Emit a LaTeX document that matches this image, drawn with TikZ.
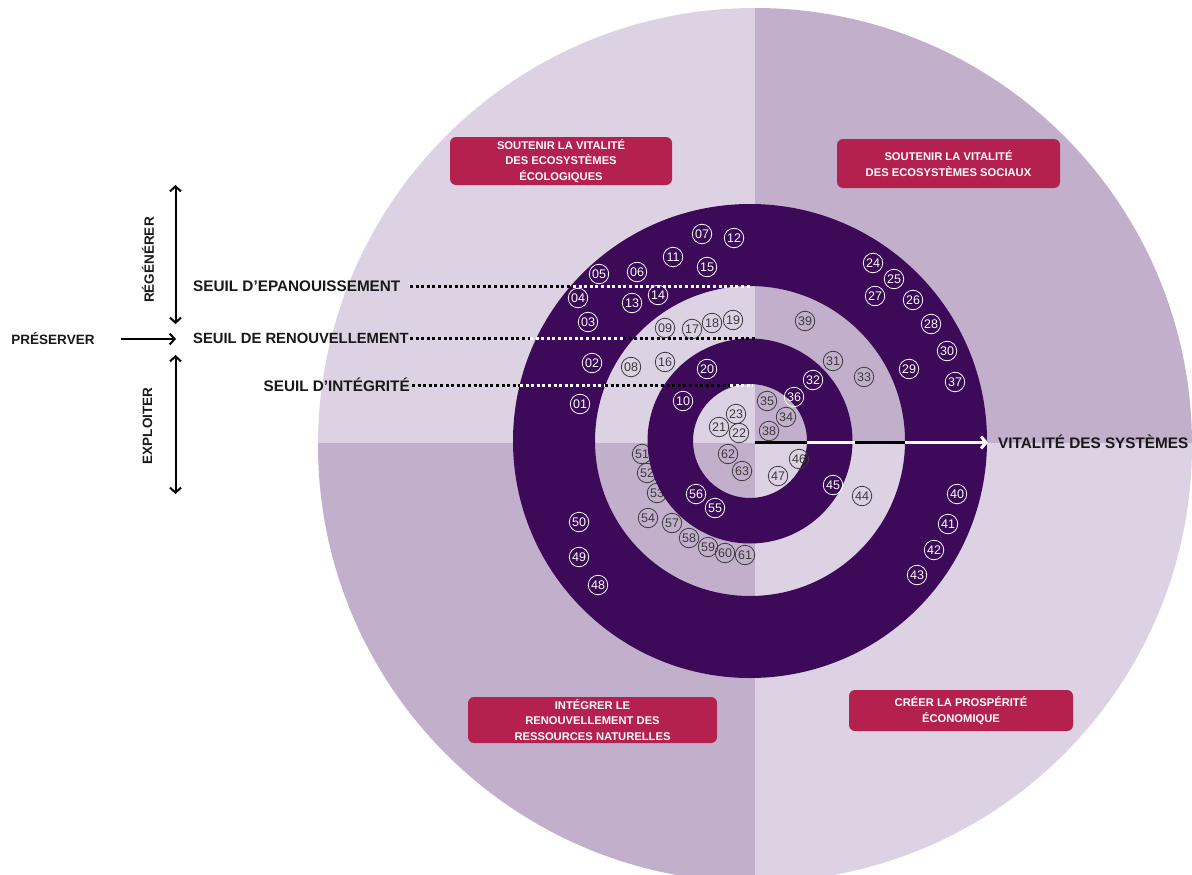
\documentclass[tikz,border=0pt]{standalone}
\usepackage{fontspec}
\setmainfont{Liberation Sans}
\usetikzlibrary{arrows.meta}

\definecolor{lilaclight}{HTML}{DDD2E4}
\definecolor{lilacmid}{HTML}{C1AFCC}
\definecolor{ringpurple}{HTML}{3D0A5A}
\definecolor{boxred}{HTML}{B5214F}
\definecolor{numgray}{HTML}{3A3A3A}

\tikzset{
  seuilline/.style={line width=3pt, dash pattern=on 3pt off 2.6pt},
  vitline/.style={line width=3pt},
  dblarrow/.style={line width=2pt, {Straight Barb[length=5pt,width=11pt]}-{Straight Barb[length=5pt,width=11pt]}},
  onearrow/.style={line width=2pt, -{Straight Barb[length=5pt,width=11pt]}},
  biglab/.style={font=\bfseries\fontsize{15.3}{18}\selectfont, text=black!90, inner sep=0pt},
  sidelab/.style={font=\bfseries\fontsize{13.5}{16}\selectfont, text=black!90, inner sep=0pt},
  redbox/.style={fill=boxred, rounded corners=6pt, text=white, align=center, inner sep=0pt,
    font=\bfseries\fontsize{11.2}{15.3}\selectfont},
  numw/.style={circle, draw=white, text=white, line width=0.8pt, minimum size=19.5pt, inner sep=0pt,
    font=\fontsize{12.5}{12.5}\selectfont},
  numd/.style={numw, draw=numgray, text=numgray}
}

\begin{document}
\begin{tikzpicture}[x=1pt,y=-1pt]
\useasboundingbox (0,0) rectangle (1192,875);
\clip (0,0) rectangle (1192,875);
\fill[white] (0,0) rectangle (1192,875);

% four quadrants of the outer disc
\begin{scope}
  \clip (755,445) circle[radius=437pt];
  \fill[lilaclight] (0,0) rectangle (755,443);
  \fill[lilacmid] (755,0) rectangle (1192,443);
  \fill[lilacmid] (0,443) rectangle (755,875);
  \fill[lilaclight] (755,443) rectangle (1192,875);
\end{scope}

% outer dark ring
\fill[ringpurple, even odd rule] (750,441) circle[radius=237pt] (750,441) circle[radius=155pt];

% markers lying under the inner ring edge
\foreach \n/\x/\y in {51/642/454, 52/647/473, 53/657/493}
  \node[numd] (n\n) at (\x,\y) {\n};

% inner dark ring
\fill[ringpurple, even odd rule] (750,441) circle[radius=102.5pt] (750,441) circle[radius=57pt];

% threshold labels and dotted lines
\node[biglab, anchor=west] (epan) at (193,286) {SEUIL D’EPANOUISSEMENT};
\node[biglab, anchor=west, font=\bfseries\fontsize{14.8}{18}\selectfont] (renou) at (193,338.5) {SEUIL DE RENOUVELLEMENT};
\node[biglab, anchor=east] (integ) at (410,385) {SEUIL D’INTÉGRITÉ};

\coordinate (e0) at (410,286);
\coordinate (e1) at (573,286);
\coordinate (e2) at (752,286);
\draw[seuilline, black] (e0) -- (e1);
\draw[seuilline, white] (e1) -- (e2);

\coordinate (r0) at (410,338);
\coordinate (r1) at (530,338);
\coordinate (r2) at (623,338);
\coordinate (r3) at (756,338);
\draw[seuilline, black] (r0) -- (r1);
\draw[seuilline, white] (r1) -- (r2);
\draw[seuilline, black] (r2) -- (r3);

\coordinate (i0) at (412,385);
\coordinate (i1) at (520,385);
\coordinate (i2) at (605,385);
\coordinate (i3) at (730,385);
\coordinate (i4) at (753,385);
\draw[seuilline, black] (i0) -- (i1);
\draw[seuilline, white] (i1) -- (i2);
\draw[seuilline, black] (i2) -- (i3);
\draw[seuilline, white] (i3) -- (i4);

% system vitality axis
\coordinate (v0) at (755,442.5);
\coordinate (v1) at (807,442.5);
\coordinate (v2) at (855,442.5);
\coordinate (v3) at (905,442.5);
\coordinate (v4) at (988,442.5);
\node[biglab, anchor=west] (vit) at (998,441.5) {VITALITÉ DES SYSTÈMES};
\draw[vitline, black] (v0) -- (v1);
\draw[vitline, white] (v1) -- (v2);
\draw[vitline, black] (v2) -- (v3);
\draw[vitline, white, -{Straight Barb[length=5pt,width=12pt]}] (v3) -- (v4);

% left-hand scale
\node[sidelab] (pres) at (53,338.5) {PRÉSERVER};
\node[sidelab, rotate=90] (regen) at (148,260) {RÉGÉNÉRER};
\node[sidelab, rotate=90] (expl) at (147.5,426) {EXPLOITER};
\coordinate (p0) at (121,339);
\coordinate (p1) at (176,339);
\coordinate (rt) at (175.5,185);
\coordinate (rb) at (175.5,324);
\coordinate (et) at (175.5,355);
\coordinate (eb) at (175.5,494);
\draw[onearrow] (p0) -- (p1);
\draw[dblarrow] (rt) -- (rb);
\draw[dblarrow] (et) -- (eb);

% numbered markers on dark rings
\foreach \n/\x/\y in {01/580/404, 02/592/363, 03/588/322, 04/578/298, 05/599/274, 06/637/272,
    07/702/234, 11/673/257, 12/734/238, 13/632/303, 14/658/295, 15/707/267,
    24/873/263, 25/894/279, 26/913/300, 27/875/296, 28/931/324, 29/909/369, 30/947/351, 37/955/382,
    40/957/494, 41/948/524, 42/934/550, 43/917/575, 48/598/585, 49/579/557, 50/579/522,
    10/683/401, 20/707/369, 32/813/380, 36/794/397, 45/833/485, 56/696/494, 55/715/508}
  \node[numw] (n\n) at (\x,\y) {\n};

% numbered markers on light bands
\foreach \n/\x/\y in {09/665/328, 17/692/329, 18/712/323, 19/733/320, 39/805/321,
    08/631/367, 16/665/362, 31/833/361, 33/864/377,
    35/767/401, 34/786/417, 23/736/414, 21/719/427, 22/739/433, 38/769/431,
    62/728/454, 63/742/471, 46/799/459, 47/778/476, 44/862/496,
    54/648/518, 57/672/523, 58/689/538, 59/708/547, 60/725/553, 61/745/555}
  \node[numd] (n\n) at (\x,\y) {\n};

% quadrant titles
\node[redbox, minimum width=222pt, minimum height=48pt] (eco) at (561,161)
  {SOUTENIR LA VITALITÉ\\DES ECOSYSTÈMES\\ÉCOLOGIQUES};
\node[redbox, minimum width=223pt, minimum height=49pt] (soc) at (948.5,163.5)
  {SOUTENIR LA VITALITÉ\\DES ECOSYSTÈMES SOCIAUX};
\node[redbox, minimum width=249pt, minimum height=46pt] (res) at (592.5,720)
  {INTÉGRER LE\\RENOUVELLEMENT DES\\RESSOURCES NATURELLES};
\node[redbox, minimum width=224pt, minimum height=41pt] (pro) at (961,710.5)
  {CRÉER LA PROSPÉRITÉ\\ÉCONOMIQUE};
\end{tikzpicture}
\end{document}
